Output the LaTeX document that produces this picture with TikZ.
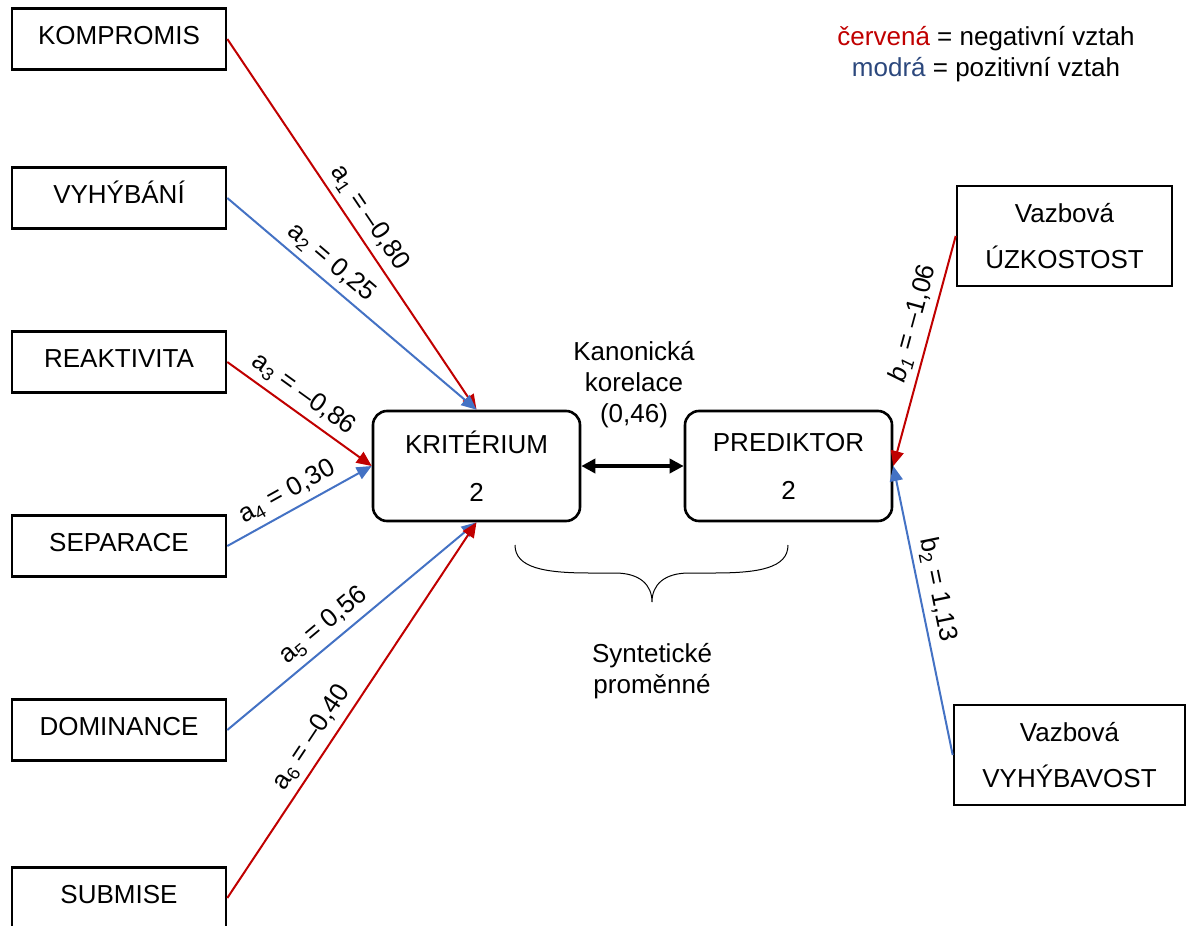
\documentclass[tikz,border=0pt]{standalone}
\usepackage{fontspec}
\setmainfont{Liberation Sans}
\usetikzlibrary{arrows.meta}
\definecolor{negred}{RGB}{192,0,0}
\definecolor{posblue}{RGB}{68,114,196}
\definecolor{legblue}{RGB}{44,72,125}

\begin{document}
\begin{tikzpicture}[x=0.5pt,y=-0.5pt,font=\fontsize{13}{15.5}\selectfont,
    var/.style={draw,line width=1.3pt,minimum width=107pt,minimum height=30.5pt,inner sep=0pt,text height=9.5pt,text depth=4pt},
    canon/.style={draw,line width=1.3pt,rounded corners=7pt,minimum width=103.5pt,minimum height=55pt,align=center,font=\fontsize{13}{24}\selectfont},
    attach/.style={draw,line width=1.3pt,minimum height=50pt,align=center,font=\fontsize{13}{23}\selectfont},
    wt/.style={line width=1pt,-{Triangle[length=7.5pt,width=6.5pt]}},
    lbl/.style={sloped,above=2pt,inner sep=1pt,text=black}]
  \useasboundingbox (0,0) rectangle (1189,926);
  \node[var] (komp) at (119,39) {KOMPROMIS};
  \node[var] (vyh) at (119,198) {VYHÝBÁNÍ};
  \node[var] (reak) at (119,362) {REAKTIVITA};
  \node[var] (sep) at (119,546) {SEPARACE};
  \node[var] (dom) at (119,730) {DOMINANCE};
  \node[var] (sub) at (119,898) {SUBMISE};
  \node[canon] (krit) at (476.5,466) {KRITÉRIUM\\2};
  \node[canon] (pred) at (788.5,466) {PREDIKTOR\\2};
  \node[attach,minimum width=107.5pt] (uzk) at (1064.5,236) {Vazbová\\ÚZKOSTOST};
  \node[attach,minimum width=115.5pt] (vyhb) at (1069.5,755) {Vazbová\\VYHÝBAVOST};
  \node[align=center] (kan) at (634,385) {Kanonická\\korelace\\(0,46)};
  \node[align=center] (syn) at (652,671) {Syntetické\\proměnné};
  \node[align=center] (leg) at (986,54) {\textcolor{negred}{červená} = negativní vztah\\\textcolor{legblue}{modrá} = pozitivní vztah};
  \draw[wt,negred] (komp.east) -- node[lbl,pos=.51] {a\textsubscript{1} = \textendash0,80} (krit.north);
  \draw[wt,posblue] (vyh.east) -- node[lbl,pos=.37] {a\textsubscript{2} = 0,25} (krit.north);
  \draw[wt,negred] (reak.east) -- node[lbl,pos=.455] {a\textsubscript{3} = \textendash0,86} (krit.west);
  \draw[wt,posblue] (sep.east) -- node[lbl,pos=.475] {a\textsubscript{4} = 0,30} (krit.west);
  \draw[wt,posblue] (dom.east) -- node[lbl,pos=.434] {a\textsubscript{5} = 0,56} (krit.south);
  \draw[wt,negred] (sub.east) -- node[lbl,pos=.40] {a\textsubscript{6} = \textendash0,40} (krit.south);
  \draw[wt,negred] (uzk.west) -- node[lbl,pos=.40] {\textit{b\textsubscript{1}} = \textendash1,06} (pred.east);
  \draw[wt,posblue] (vyhb.west) -- node[lbl,pos=.56] {b\textsubscript{2} = 1,13} (pred.east);
  \draw[line width=1.8pt,{Triangle[length=7pt,width=7pt]}-{Triangle[length=7pt,width=7pt]}] (krit) -- (pred);
  \draw[line width=0.5pt] (515,545) .. controls (515,568) and (545,573) .. (590,573) -- (615,573)
    .. controls (640,573) and (652,585) .. (652,602)
    .. controls (652,585) and (664,573) .. (689,573) -- (714,573)
    .. controls (759,573) and (788,568) .. (788,545);
\end{tikzpicture}
\end{document}
